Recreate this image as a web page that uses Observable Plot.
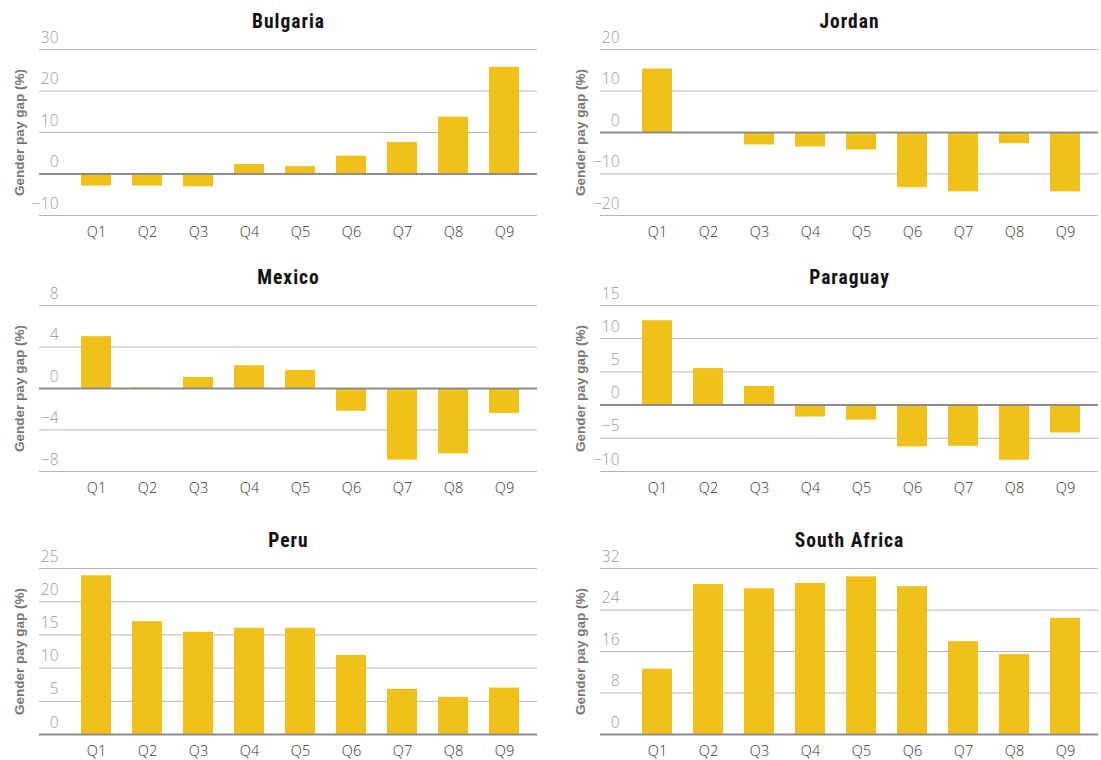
<!DOCTYPE html>
<html>
<head>
<meta charset="utf-8">
<script src="https://cdn.jsdelivr.net/npm/d3@7"></script>
<script src="https://cdn.jsdelivr.net/npm/@observablehq/plot@0.6"></script>
<style>
  body { margin: 0; background: #fff; }
  #chart { position: relative; width: 1101px; height: 760px; overflow: hidden; background: #fff; }
  .panel { position: absolute; }
</style>
</head>
<body>
<div id="chart"></div>
<script>
// ---- Data ----
const quintiles = ["Q1", "Q2", "Q3", "Q4", "Q5", "Q6", "Q7", "Q8", "Q9"];
const countries = ["Bulgaria", "Jordan", "Mexico", "Paraguay", "Peru", "South Africa"];

const bulgaria    = [-2.9, -2.9, -3.1, 2.3, 1.8, 4.3, 7.6, 13.7, 25.7];
const jordan      = [15.3, 0, -3.0, -3.5, -4.2, -13.3, -14.3, -2.7, -14.3];
const mexico      = [5.0, 0.05, 1.06, 2.2, 1.74, -2.2, -6.9, -6.3, -2.4];
const paraguay    = [12.7, 5.5, 2.8, -1.8, -2.25, -6.3, -6.2, -8.3, -4.2];
const peru        = [23.9, 17.0, 15.4, 16.0, 16.0, 11.9, 6.8, 5.6, 7.0];
const southAfrica = [12.6, 28.9, 28.1, 29.1, 30.4, 28.5, 17.9, 15.4, 22.4];

const bulgariaTicks    = [-10, 0, 10, 20, 30];
const jordanTicks      = [-20, -10, 0, 10, 20];
const mexicoTicks      = [-8, -4, 0, 4, 8];
const paraguayTicks    = [-10, -5, 0, 5, 10, 15];
const peruTicks        = [0, 5, 10, 15, 20, 25];
const southAfricaTicks = [0, 8, 16, 24, 32];

const yTitle = "Gender pay gap (%)";

const seriesList = [bulgaria, jordan, mexico, paraguay, peru, southAfrica];
const tickList = [bulgariaTicks, jordanTicks, mexicoTicks, paraguayTicks, peruTicks, southAfricaTicks];

// ---- Layout ----
const colLeft = [0, 561];
const rowTop = [0, 256, 519];
const tickFont = "'Open Sans', Roboto, 'Liberation Sans', sans-serif";

const chart = document.getElementById("chart");

countries.forEach((name, i) => {
  const values = seriesList[i];
  const ticks = tickList[i];
  const data = quintiles.map((q, j) => ({q, v: values[j]}));

  const svg = Plot.plot({
    width: 540,
    height: 245,
    marginLeft: 39,
    marginRight: 3,
    marginTop: 49,
    marginBottom: 30,
    style: {fontFamily: tickFont, background: "transparent", overflow: "visible"},
    x: {domain: quintiles, paddingInner: 0.415, paddingOuter: 0.566, align: 0.69, label: null},
    y: {domain: [d3.min(ticks), d3.max(ticks)], label: null},
    marks: [
      Plot.gridY(ticks, {stroke: "#b4b4b4", strokeOpacity: 1, strokeWidth: 1}),
      Plot.barY(data, {x: "q", y: "v", fill: "#F0C11A"}),
      Plot.ruleY([0], {stroke: "#8c8c8c", strokeWidth: 2}),
      Plot.axisY(ticks, {
        tickSize: 0, tickPadding: 0, dx: 19, dy: -7, lineAnchor: "bottom",
        fontSize: 15.5, fontWeight: 300, fontFamily: tickFont, fill: "#999999", label: null
      }),
      Plot.axisX({
        tickSize: 0, tickPadding: 11, fontSize: 14.5, fontWeight: 300, fontFamily: tickFont, fill: "#333333", label: null
      }),
      Plot.text([name], {
        frameAnchor: "top", dy: -22, lineAnchor: "bottom", textAnchor: "middle",
        fontSize: 19.5, fontWeight: "bold",
        fontFamily: "'Liberation Sans Narrow', 'Roboto Condensed', 'DejaVu Sans Condensed', sans-serif",
        fill: "#111111"
      }),
      Plot.text([yTitle], {
        frameAnchor: "left", dx: -20, rotate: -90, textAnchor: "middle",
        fontSize: 13.5, fontWeight: "bold",
        fontFamily: "'Liberation Sans', Arial, sans-serif",
        fill: "#777777"
      })
    ]
  });

  d3.select(svg).selectAll("text")
    .filter(function () { return this.textContent === name; })
    .style("letter-spacing", "1px");

  const div = document.createElement("div");
  div.className = "panel";
  div.style.left = colLeft[i % 2] + "px";
  div.style.top = rowTop[Math.floor(i / 2)] + "px";
  div.appendChild(svg);
  chart.appendChild(div);
});
</script>
</body>
</html>
